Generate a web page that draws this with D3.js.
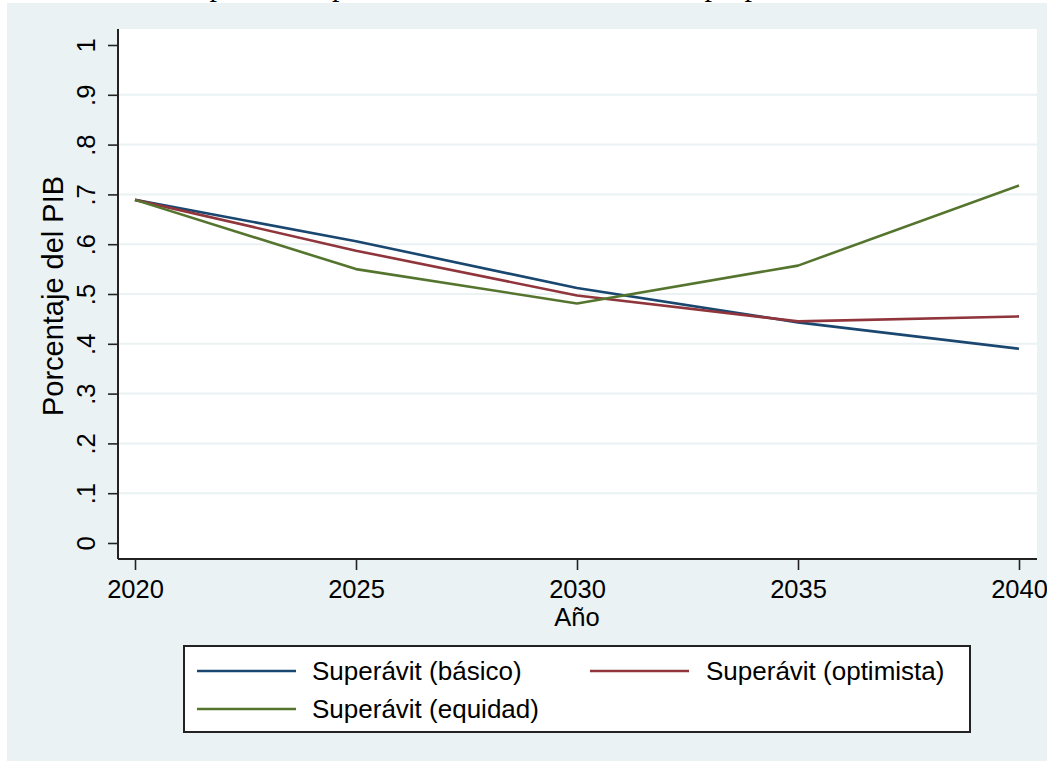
<!DOCTYPE html>
<html>
<head>
<meta charset="utf-8">
<script src="https://cdn.jsdelivr.net/npm/d3@7"></script>
<style>
  html, body { margin: 0; padding: 0; background: #ffffff; }
  svg { display: block; }
  text { font-family: "Liberation Sans", Arial, sans-serif; fill: #000; }
</style>
</head>
<body>
<svg id="chart" width="1047" height="761"></svg>
<script>
// Years on the horizontal axis
const years = [2020, 2025, 2030, 2035, 2040];

// Primary surplus (share of GDP) per scenario
const basico    = [0.689, 0.606, 0.512, 0.443, 0.390];
const optimista = [0.689, 0.587, 0.497, 0.445, 0.455];
const equidad   = [0.689, 0.550, 0.481, 0.557, 0.718];

const seriesNames = ["Superávit (básico)", "Superávit (optimista)", "Superávit (equidad)"];
const seriesColors = ["#1a476f", "#90353b", "#55752f"];

const yTicks = [0, 0.1, 0.2, 0.3, 0.4, 0.5, 0.6, 0.7, 0.8, 0.9, 1];
const yTickLabels = ["0", ".1", ".2", ".3", ".4", ".5", ".6", ".7", ".8", ".9", "1"];

const titleLines = ["Escenarios de superávits", "primarios para estabilizar la deuda como proporción del PIB"];
const xTitle = "Año";
const yTitle = "Porcentaje del PIB";

const svg = d3.select("#chart");
const bg = "#eaf2f3";

// Outer graph region
svg.append("rect").attr("x", 7).attr("y", 3).attr("width", 1040).attr("height", 758).attr("fill", bg);

// Two-line title, set above the graph region
const title = svg.append("text")
  .attr("text-anchor", "middle")
  .style("font-family", "'Liberation Serif', 'Times New Roman', serif")
  .style("font-size", "30px");
titleLines.forEach((t, i) => {
  title.append("tspan")
    .attr("x", 572)
    .attr("y", -4.5 - (titleLines.length - 1 - i) * 34)
    .text(t);
});

// Plot region
const plot = { left: 118, right: 1037, top: 29, bottom: 559 };
svg.append("rect")
  .attr("x", plot.left).attr("y", plot.top)
  .attr("width", plot.right - plot.left).attr("height", plot.bottom - plot.top)
  .attr("fill", "#ffffff");

const x = d3.scaleLinear().domain([2020, 2040]).range([135, 1019]);
const y = d3.scaleLinear().domain([0, 1]).range([543, 45]);

// Horizontal grid lines
svg.append("g")
  .selectAll("line")
  .data(yTicks.filter(d => d > 0 && d < 1))
  .join("line")
  .attr("x1", plot.left).attr("x2", plot.right)
  .attr("y1", d => y(d)).attr("y2", d => y(d))
  .attr("stroke", bg).attr("stroke-width", 2);

// Y axis
const yAxis = d3.axisLeft(y)
  .tickValues(yTicks)
  .tickFormat((d, i) => yTickLabels[i])
  .tickSize(10)
  .tickPadding(6);
const gy = svg.append("g").attr("transform", `translate(${plot.left},0)`).call(yAxis);
gy.select(".domain").attr("d", `M0,${plot.top}V${plot.bottom}`).attr("stroke", "#222").attr("stroke-width", 2);
gy.selectAll(".tick line").attr("stroke", "#222").attr("stroke-width", 1.6);
gy.selectAll(".tick text")
  .attr("x", null).attr("dy", null)
  .attr("transform", "translate(-23,0) rotate(-90)")
  .attr("text-anchor", "middle")
  .style("font-size", "25.5px")
  .style("font-family", "'Liberation Sans', Arial, sans-serif")
  .attr("fill", "#000");

// X axis
const xAxis = d3.axisBottom(x)
  .tickValues(years)
  .tickFormat(d3.format("d"))
  .tickSize(11)
  .tickPadding(10);
const gx = svg.append("g").attr("transform", `translate(0,${plot.bottom})`).call(xAxis);
gx.select(".domain").attr("d", `M${plot.left},0H${plot.right}`).attr("stroke", "#222").attr("stroke-width", 2);
gx.selectAll(".tick line").attr("stroke", "#222").attr("stroke-width", 1.6);
gx.selectAll(".tick text")
  .style("font-size", "25.5px")
  .style("font-family", "'Liberation Sans', Arial, sans-serif")
  .attr("fill", "#000");

// Axis titles
svg.append("text")
  .attr("x", x(2030)).attr("y", 626)
  .attr("text-anchor", "middle")
  .style("font-size", "25.5px")
  .text(xTitle);

svg.append("text")
  .attr("transform", `translate(63,296) rotate(-90)`)
  .attr("text-anchor", "middle")
  .style("font-size", "29px")
  .text(yTitle);

// Lines
const allSeries = [basico, optimista, equidad];
const line = d3.line().x((d, i) => x(years[i])).y(d => y(d));
svg.append("g")
  .selectAll("path")
  .data(allSeries)
  .join("path")
  .attr("d", d => line(d))
  .attr("fill", "none")
  .attr("stroke", (d, i) => seriesColors[i])
  .attr("stroke-width", 2.6)
  .attr("stroke-linejoin", "round");

// Legend
const legend = svg.append("g");
legend.append("rect")
  .attr("x", 184).attr("y", 646).attr("width", 786).attr("height", 86)
  .attr("fill", "#ffffff").attr("stroke", "#222").attr("stroke-width", 2);

const legendPos = [
  { lx: 197, tx: 312, ly: 671 },
  { lx: 590, tx: 706, ly: 671 },
  { lx: 197, tx: 312, ly: 709 }
];
seriesNames.forEach((name, i) => {
  const p = legendPos[i];
  legend.append("line")
    .attr("x1", p.lx).attr("x2", p.lx + 99)
    .attr("y1", p.ly).attr("y2", p.ly)
    .attr("stroke", seriesColors[i]).attr("stroke-width", 2.6);
  legend.append("text")
    .attr("x", p.tx).attr("y", p.ly + 9)
    .style("font-size", "26px")
    .text(name);
});
</script>
</body>
</html>
